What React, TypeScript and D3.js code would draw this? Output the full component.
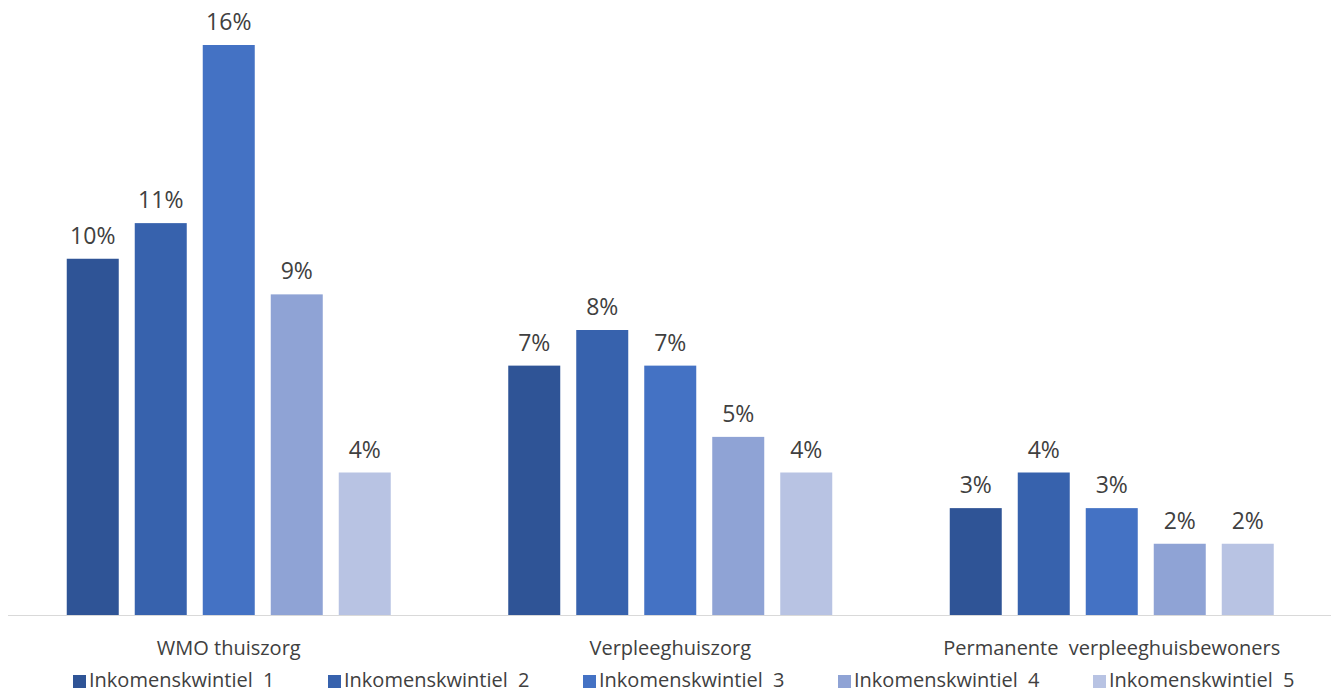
import React from "react";
import * as d3 from "d3";

const categories = ["WMO thuiszorg", "Verpleeghuiszorg", "Permanente  verpleeghuisbewoners"];
const seriesNames = [
  "Inkomenskwintiel  1",
  "Inkomenskwintiel  2",
  "Inkomenskwintiel  3",
  "Inkomenskwintiel  4",
  "Inkomenskwintiel  5",
];
const q1 = [0.10, 0.07, 0.03];
const q2 = [0.11, 0.08, 0.04];
const q3 = [0.16, 0.07, 0.03];
const q4 = [0.09, 0.05, 0.02];
const q5 = [0.04, 0.04, 0.02];
const seriesValues = [q1, q2, q3, q4, q5];
const colors = ["#2F5496", "#3762AD", "#4472C4", "#8FA3D5", "#B8C3E3"];

const W = 1335;
const H = 693;
const textColor = "#404040";
const font = "'Open Sans', 'DejaVu Sans', sans-serif";

export default function App() {
  const x0 = d3.scaleBand<string>().domain(categories).range([8, 1332.5]).padding(0);
  const innerWidth = 340;
  const x1 = d3
    .scaleBand<string>()
    .domain(seriesNames)
    .range([0, innerWidth])
    .paddingInner(16 / 68)
    .paddingOuter(8 / 68);
  const y = d3.scaleLinear().domain([0, 0.16]).range([615, 45]);
  const fmt = d3.format(".0%");

  const legendX = d3.scaleLinear().domain([0, 4]).range([73, 1093]);

  return (
    <div style={{ position: "absolute", left: 0, top: 0 }}>
      <svg width={W} height={H} style={{ display: "block", background: "#fff" }} fontFamily={font}>
        <rect x={0} y={0} width={W} height={H} fill="#fff" />
        {categories.map((cat, ci) => {
          const gx = (x0(cat) as number) + (x0.bandwidth() - innerWidth) / 2;
          return (
            <g key={cat} transform={`translate(${gx},0)`}>
              {seriesNames.map((s, si) => {
                const v = seriesValues[si][ci];
                const bx = x1(s) as number;
                return (
                  <g key={s}>
                    <rect
                      x={bx}
                      y={y(v)}
                      width={x1.bandwidth()}
                      height={y(0) - y(v)}
                      fill={colors[si]}
                    />
                    <text
                      x={bx + x1.bandwidth() / 2}
                      y={y(v) - 15}
                      textAnchor="middle"
                      fontSize={23}
                      fill={textColor}
                    >
                      {fmt(v)}
                    </text>
                  </g>
                );
              })}
            </g>
          );
        })}
        <line x1={8} x2={1331} y1={y(0) + 0.5} y2={y(0) + 0.5} stroke="#D9D9D9" strokeWidth={1} />
        {categories.map((cat) => (
          <text
            key={cat}
            x={(x0(cat) as number) + x0.bandwidth() / 2}
            y={655}
            textAnchor="middle"
            fontSize={20}
            fill={textColor}
            style={{ whiteSpace: "pre" }}
          >
            {cat}
          </text>
        ))}
        {seriesNames.map((s, si) => (
          <g key={s} transform={`translate(${legendX(si)},0)`}>
            <rect x={0} y={675} width={13} height={13} fill={colors[si]} />
            <text x={16} y={687} fontSize={20} fill={textColor} style={{ whiteSpace: "pre" }}>
              {s}
            </text>
          </g>
        ))}
      </svg>
    </div>
  );
}
